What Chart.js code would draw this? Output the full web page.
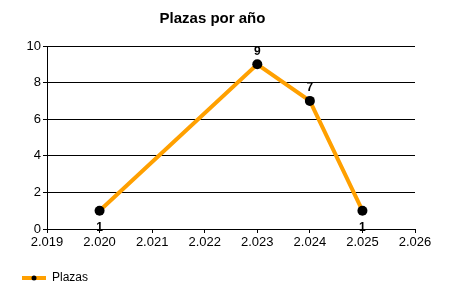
<!DOCTYPE html>
<html>
<head>
<meta charset="utf-8">
<script src="https://cdn.jsdelivr.net/npm/chart.js@4/dist/chart.umd.min.js"></script>
<style>
  html, body { margin: 0; padding: 0; background: #fff; }
  #wrap { width: 450px; height: 300px; }
</style>
</head>
<body>
<div id="wrap"><canvas id="myChart"></canvas></div>
<script>
const years = [2020, 2023, 2024, 2025];
const plazas = [1, 9, 7, 1];
const xMin = 2019, xMax = 2026;
const yTicks = [0, 2, 4, 6, 8, 10];

const FONT = "'Liberation Sans', Arial, sans-serif";
const ORANGE = '#ffa000';

// legend sample: orange line with a black dot
const legendIcon = document.createElement('canvas');
legendIcon.width = 24; legendIcon.height = 8;
(function () {
    const c = legendIcon.getContext('2d');
    c.strokeStyle = ORANGE; c.lineWidth = 4;
    c.beginPath(); c.moveTo(0, 4); c.lineTo(24, 4); c.stroke();
    c.fillStyle = '#000';
    c.beginPath(); c.arc(12, 4, 2.5, 0, Math.PI * 2); c.fill();
})();

// value labels over (or under) each point
const pointLabels = {
    id: 'pointLabels',
    afterDatasetsDraw(chart) {
        const ctx = chart.ctx;
        const meta = chart.getDatasetMeta(0);
        ctx.save();
        ctx.font = 'bold 12px ' + FONT;
        ctx.fillStyle = '#000';
        ctx.textAlign = 'center';
        meta.data.forEach((pt, i) => {
            const v = plazas[i];
            if (v < 2) {
                ctx.textBaseline = 'top';
                ctx.fillText(v, pt.x, pt.y + 11);
            } else {
                ctx.textBaseline = 'bottom';
                ctx.fillText(v, pt.x, pt.y - 7);
            }
        });
        ctx.restore();
    }
};

new Chart(document.getElementById('myChart'), {
    type: 'scatter',
    data: {
        datasets: [{
            label: 'Plazas',
            data: years.map((y, i) => ({x: y, y: plazas[i]})),
            showLine: true,
            borderColor: ORANGE,
            borderWidth: 4,
            backgroundColor: '#000',
            pointBackgroundColor: '#000',
            pointBorderWidth: 0,
            pointRadius: 5,
            pointHoverRadius: 5,
            tension: 0,
            clip: false
        }]
    },
    options: {
        responsive: true,
        maintainAspectRatio: false,
        animation: false,
        events: [],
        layout: { padding: { left: 10, right: 35, top: 0, bottom: 6 } },
        plugins: {
            tooltip: { enabled: false },
            title: {
                display: true,
                text: 'Plazas por año',
                color: '#000',
                font: { family: FONT, size: 15, weight: 'bold' },
                padding: { top: 10, bottom: 18 }
            },
            legend: {
                display: true,
                position: 'bottom',
                align: 'start',
                labels: {
                    color: '#000',
                    font: { family: FONT, size: 12 },
                    usePointStyle: true,
                    pointStyleWidth: 24,
                    padding: 12,
                    generateLabels(chart) {
                        return [{
                            text: 'Plazas',
                            pointStyle: legendIcon,
                            fontColor: '#000',
                            datasetIndex: 0,
                            hidden: false,
                            lineWidth: 0
                        }];
                    }
                }
            }
        },
        scales: {
            x: {
                type: 'linear',
                min: xMin,
                max: xMax,
                afterFit(scale) { scale.height = 31; },
                ticks: {
                    stepSize: 1,
                    color: '#000',
                    padding: 2,
                    font: { family: FONT, size: 13 },
                    callback: v => String(v).replace(/^(\d)(\d{3})$/, '$1.$2')
                },
                grid: { drawOnChartArea: false, drawTicks: true, tickLength: 4, color: '#000' },
                border: { display: true, color: '#000', width: 1 }
            },
            y: {
                min: yTicks[0],
                max: yTicks[yTicks.length - 1],
                afterFit(scale) { scale.width = 37; },
                afterBuildTicks(scale) { scale.ticks = yTicks.map(v => ({value: v})); },
                ticks: {
                    color: '#000',
                    padding: 2,
                    font: { family: FONT, size: 13 }
                },
                grid: { color: '#000', lineWidth: 1, drawTicks: true, tickLength: 4 },
                border: { display: true, color: '#000', width: 1 }
            }
        }
    },
    plugins: [pointLabels]
});
</script>
</body>
</html>
